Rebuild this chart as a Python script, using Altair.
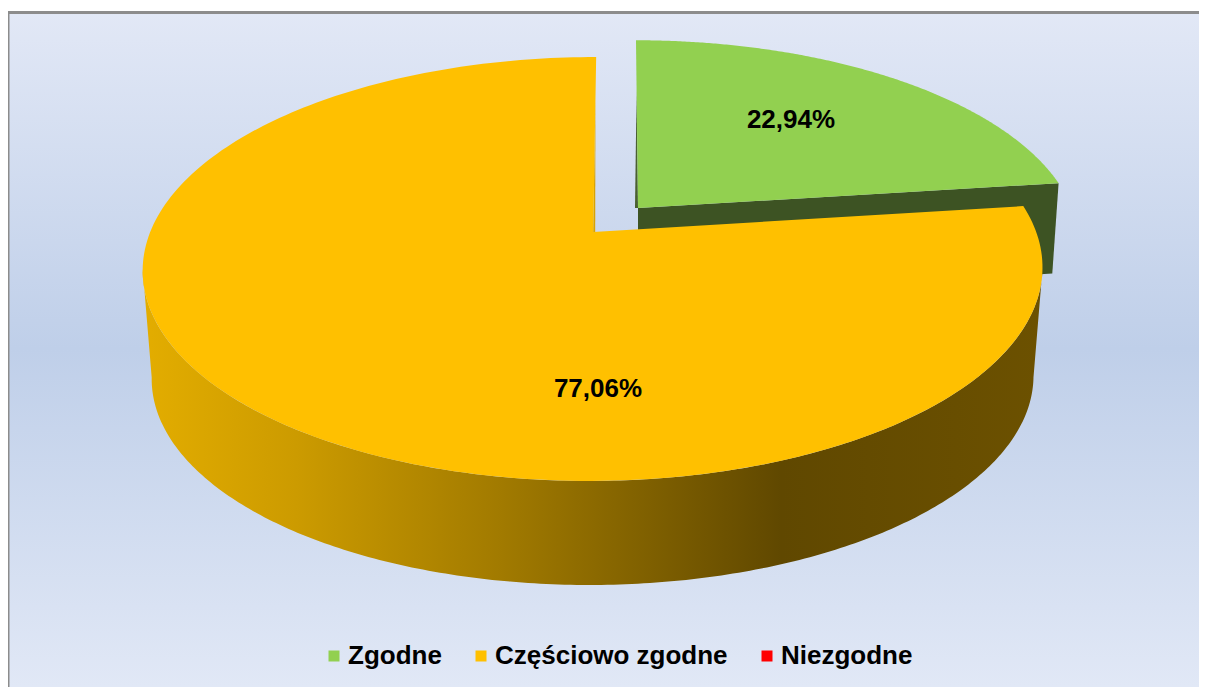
import math
import altair as alt
import pandas as pd

categories = ["Zgodne", "Częściowo zgodne", "Niezgodne"]
shares = [22.94, 77.06, 0.0]
colors = ["#92D050", "#FFC000", "#FF0000"]
labels = ["22,94%", "77,06%"]

W, H = 1191, 679
OX, OY = 8, 8  # page margin

# projection of each tilted slice: apex, scale, perspective, shear, depth
GREEN = dict(ax=638, ay=208, A=197.0, a0=434.0, C=0.1745, s=-0.012, depth=90, k=0.985)
ORANGE = dict(ax=593.2, ay=232, A=205.5, a0=443.0, C=0.1745, s=0.017, depth=109, k=0.98)
LABEL_XY = [(791, 120), (598, 389)]


def project(deg, p, bottom=False, r=1.0):
    t = math.radians(deg)
    x, y = r * math.sin(t), r * math.cos(t)
    d = 1 + p["C"] * y
    yy = p["A"] * y / d
    xx = p["a0"] * x / d + p["s"] * yy
    k = p["k"] if bottom else 1.0
    dy = p["depth"] if bottom else 0
    return p["ax"] + k * xx - OX, p["ay"] + dy - k * yy - OY


def sweep(a, b, n=240):
    return [a + (b - a) * i / n for i in range(n + 1)]


def face(a, b, p):
    pts = [(p["ax"] - OX, p["ay"] - OY)] + [project(d, p) for d in sweep(a, b)]
    return pts


def frame(pts, name):
    return pd.DataFrame(
        {"x": [q[0] for q in pts], "y": [q[1] for q in pts], "i": range(len(pts)), "cat": name}
    )


total = sum(shares)
a_end = shares[0] / total * 360

green_face = frame(face(0, a_end, GREEN), categories[0])
orange_face = frame(face(a_end, 360, ORANGE), categories[1])

ga, gb = (GREEN["ax"] - OX, GREEN["ay"] - OY), project(a_end, GREEN)
green_wall = frame(
    [ga, gb, project(a_end, GREEN, True),
     (GREEN["ax"] - OX, GREEN["ay"] - OY + GREEN["depth"])],
    "w",
)
# thin inner walls visible along the gap between the two slices
green_sliver = frame([project(0, GREEN, r=0.66), ga, (ga[0] - 3, ga[1])], "w")
oa = (ORANGE["ax"] - OX, ORANGE["ay"] - OY)
orange_sliver = frame([project(360, ORANGE, r=0.72), oa, (oa[0] + 2, oa[1])], "w")

tip = math.degrees(math.acos(-ORANGE["C"]))
front = sweep(tip, 360 - tip)
orange_wall = frame(
    [project(d, ORANGE) for d in front] + [project(d, ORANGE, True) for d in reversed(front)],
    "w",
)

xs = alt.Scale(domain=[0, W], range=[0, W])
ys = alt.Scale(domain=[0, H], range=[0, H])
X = alt.X("x:Q", scale=xs, axis=None)
Y = alt.Y("y:Q", scale=ys, axis=None)

bg = alt.Chart(pd.DataFrame({"x": [0], "x2": [W], "y": [3], "y2": [H]})).mark_rect(
    fill=alt.Gradient(
        gradient="linear", x1=0, x2=0, y1=0, y2=1,
        stops=[
            alt.GradientStop(offset=0, color="#E2E8F6"),
            alt.GradientStop(offset=0.5, color="#BFCFE9"),
            alt.GradientStop(offset=1, color="#E1E8F6"),
        ],
    )
).encode(x=X, x2="x2:Q", y=Y, y2="y2:Q")

border_top = alt.Chart(pd.DataFrame({"x": [0], "x2": [W], "y": [3], "y2": [6]})).mark_rect(
    color="#8C8C8C"
).encode(x=X, x2="x2:Q", y=Y, y2="y2:Q")
border_left = alt.Chart(pd.DataFrame({"x": [0], "x2": [1.5], "y": [3], "y2": [H]})).mark_rect(
    color="#8C8C8C"
).encode(x=X, x2="x2:Q", y=Y, y2="y2:Q")


def poly(df, **kw):
    return alt.Chart(df).mark_line(strokeWidth=0, interpolate="linear", **kw).encode(
        x=X, y=Y, order="i:Q"
    )


wall_g = poly(green_wall, fill="#3D5323")
sliver_g = poly(green_sliver, fill="#4A6030")
top_g = poly(green_face, fill=colors[0])
sliver_o = poly(orange_sliver, fill="#D9A300")
wall_o = poly(
    orange_wall,
    fill=alt.Gradient(
        gradient="linear", x1=0, x2=1, y1=0, y2=0,
        stops=[
            alt.GradientStop(offset=0.0, color="#E3AD00"),
            alt.GradientStop(offset=0.17, color="#CC9B00"),
            alt.GradientStop(offset=0.40, color="#A17A00"),
            alt.GradientStop(offset=0.71, color="#604800"),
            alt.GradientStop(offset=1.0, color="#6C5100"),
        ],
    ),
)
top_o = poly(orange_face, fill=colors[1])

legend_df = pd.DataFrame({"cat": categories, "x": [10] * 3, "y": [10] * 3})
legend_layer = alt.Chart(legend_df).mark_square(size=0, opacity=1).encode(
    x=X,
    y=Y,
    fill=alt.Fill(
        "cat:N",
        scale=alt.Scale(domain=categories, range=colors),
        legend=alt.Legend(
            orient="none", legendX=313, legendY=635, direction="horizontal",
            columns=3, title=None, symbolType="square", symbolSize=121,
            symbolStrokeWidth=0, labelFont="Liberation Sans", labelFontWeight="bold",
            labelFontSize=26, labelColor="#000000", labelOffset=1, columnPadding=26,
            padding=0, labelLimit=400,
        ),
    ),
)

text_df = pd.DataFrame(
    {"t": labels, "x": [q[0] - OX for q in LABEL_XY], "y": [q[1] - OY for q in LABEL_XY]}
)
text = alt.Chart(text_df).mark_text(
    font="Liberation Sans", fontWeight="bold", fontSize=26, color="#000000",
    align="center", baseline="middle",
).encode(x=X, y=Y, text="t:N")

chart = alt.layer(
    bg, border_top, border_left, wall_g, sliver_g, top_g, sliver_o, wall_o, top_o, text, legend_layer
).properties(
    width=W, height=H, padding=0, autosize=alt.AutoSizeParams(type="none"), background="#FFFFFF"
).configure_view(stroke=None)

chart.save("out.html", embed_options={"renderer": "svg", "actions": False})
